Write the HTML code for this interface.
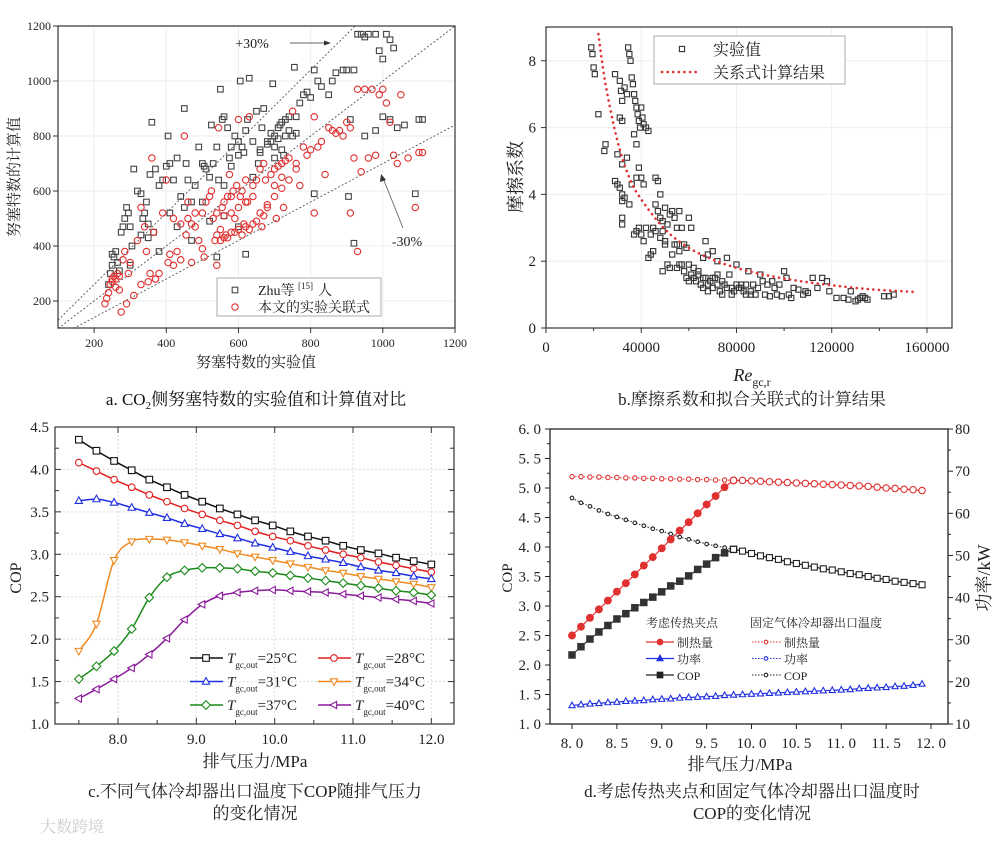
<!DOCTYPE html>
<html><head><meta charset="utf-8"><style>
body{margin:0;background:#fff}
svg{display:block;font-family:"Liberation Serif","Noto Serif CJK SC",serif}
</style></head><body>
<svg id="fig" width="1000" height="845" viewBox="0 0 1000 845" xmlns="http://www.w3.org/2000/svg"></svg>
<script>
// ===== Panel a data =====
const zhuPts=[240,260,245,300,250,330,255,360,260,380,250,370,265,340,270,310,275,450,280,470,285,500,290,540,295,520,300,470,305,400,310,680,320,600,330,590,335,500,340,520,345,560,350,430,355,660,360,850,365,450,370,680,380,620,390,640,400,690,405,800,410,700,420,640,430,720,440,580,450,900,455,700,460,640,470,560,480,620,490,760,500,700,505,690,510,680,520,650,525,840,530,700,540,760,545,640,550,970,555,860,560,870,570,830,575,720,580,760,590,800,600,780,605,1000,610,760,615,740,620,820,625,860,630,1010,640,780,650,890,655,700,660,740,665,830,670,900,680,780,690,810,695,990,700,800,710,830,715,840,720,850,725,730,730,860,740,870,750,800,755,1050,760,870,770,920,780,950,790,960,800,940,810,1040,820,1000,830,980,850,950,860,1000,870,1030,890,1040,900,1040,910,860,920,1040,930,1170,940,1170,950,1160,960,1170,980,1170,990,1110,1000,1080,1010,1170,1020,1150,1030,1120,1000,870,1020,860,1040,830,1060,840,1100,860,1110,860,980,820,950,800,1090,590,905,580,810,590,920,410,620,370,540,360,600,470,470,420,430,470,380,380,300,330,520,490,560,510,640,650,700,720,720,750,760,810,580,690,600,730,660,750,680,770,730,800,740,820,690,780,700,760,710,790,560,620,500,560,450,540,410,520,350,480,330,440];
const oursPts=[230,190,235,210,240,230,245,260,250,280,255,290,260,280,265,300,270,240,275,160,280,350,285,380,290,190,295,300,300,340,310,220,320,420,330,540,340,470,345,380,350,270,355,300,360,720,365,450,370,280,380,300,390,520,400,640,405,340,410,370,420,500,430,380,440,350,450,800,455,440,460,560,470,480,480,470,490,420,500,520,505,360,510,560,520,580,525,600,530,500,535,420,540,520,545,830,550,460,555,540,560,560,565,440,570,580,575,660,580,580,585,600,590,500,595,620,600,860,605,580,610,600,615,480,620,640,625,560,630,870,640,620,650,640,660,680,665,470,670,700,675,640,680,540,690,660,700,680,705,500,710,690,720,700,725,540,730,710,740,720,750,890,760,700,770,620,780,760,790,730,800,750,810,870,820,760,830,780,840,660,850,830,860,820,870,810,880,820,890,800,900,850,910,830,920,720,930,970,940,670,950,970,960,720,970,970,980,730,990,950,1000,970,1010,920,1020,850,1030,730,1040,700,1050,950,1070,720,1090,540,1100,740,1110,740,810,520,910,520,930,380,540,330,500,390,470,340,420,330,370,280,330,260,560,430,580,450,600,460,620,470,640,480,660,520,680,550,700,580,720,610,740,640,760,680,560,510,580,520,600,540,620,560,640,580,700,620,720,650,480,520,460,500,440,480,250,270,260,250,270,290,540,440,550,420,570,430,590,450,610,440,630,460,650,490,670,510];
const aTicks=[200,400,600,800,1000,1200];
const aBands=[1.3,1.0,0.7];
// ===== Panel b data =====
const reK=[19,19.5,20,20.5,22,25,24.5,29,31,31.5,32,33,34,34.5,35,35.5,36,36.5,37,37.5,38,38.5,39,39.5,40,40.5,41,42,43,37,38,31,32,30,32,34,29,30,31,32,33,32,32,32,35,36,38,39,40,41,37,38,39,40,41,42,43,44,45,44,45,46,47,48,46,47,48,49,50,51,52,53,54,55,56,57,50,49,51,52,53,55,56,57,58,59,60,61,59,60,61,62,63,64,65,66,67,67,68,69,70,71,72,73,74,75,76,77,78,79,80,81,82,83,84,85,86,87,88,89,90,91,92,93,94,95,96,97,98,99,100,101,102,103,104,106,108,109,110,112,114,116,118,119,122,125,127,128,130,131,132,133,134,135,142,144,146,66,68,70,72,74,76,78,80,82,84,86,60,62,64,66,68,70,72,58,54,55,56,46,48,49,50];
const fExp=[8.4,8.2,7.8,7.6,6.4,5.5,5.3,7.6,7.4,7.1,6.8,7.2,7.0,8.4,8.2,8.0,7.5,7.3,7.0,6.8,6.6,6.4,6.2,6.0,6.6,6.3,6.1,6.0,5.9,5.8,5.5,6.3,6.2,5.2,4.9,5.1,4.4,4.3,4.2,4.0,3.9,3.8,3.3,3.1,3.7,4.3,4.5,4.8,4.5,4.3,2.8,2.9,3.0,2.8,2.6,3.0,2.1,2.2,2.3,2.8,3.0,4.5,4.4,4.0,3.7,3.5,3.3,3.2,3.6,3.1,3.4,3.5,3.3,3.0,3.5,3.0,2.6,1.7,1.9,1.8,2.2,2.5,2.3,1.9,1.7,2.4,3.3,3.0,1.5,1.4,1.6,1.5,1.4,1.6,1.3,2.1,2.6,1.5,1.3,1.4,1.2,1.5,1.3,1.1,1.4,1.3,2.1,1.6,1.2,1.1,1.9,1.2,1.3,1.1,1.0,1.7,1.1,1.3,1.0,1.2,1.6,1.4,1.0,1.3,0.95,1.4,1.2,1.0,1.3,0.95,1.7,1.5,1.0,0.9,1.2,1.15,1.0,1.1,1.05,1.5,1.2,1.5,1.4,1.1,0.9,0.9,0.85,1.1,0.8,0.85,0.9,0.95,0.9,0.85,0.95,0.95,1.0,1.2,1.1,1.5,1.6,1.0,1.2,1.0,1.3,1.2,1.3,1.0,1.9,1.8,1.7,1.5,2.2,2.3,2.0,2.5,2.5,1.8,1.9,2.9,2.7,2.9,2.5];
const reFit=[22,25,30,35,40,50,60,70,80,90,100,110,120,130,140,155];
const fFit=[8.8,7.3,5.6,4.5,3.85,2.95,2.4,2.05,1.8,1.62,1.48,1.37,1.28,1.2,1.14,1.08];
const bXTicks=[0,40000,80000,120000,160000];
const bYTicks=[0,2,4,6,8];
// ===== Panel c data =====
const pC=[7.5,7.725,7.95,8.175,8.4,8.625,8.85,9.075,9.3,9.525,9.75,9.975,10.2,10.425,10.65,10.875,11.1,11.325,11.55,11.775,12.0];
const cop25=[4.35,4.22,4.10,3.99,3.88,3.79,3.70,3.62,3.54,3.47,3.40,3.34,3.27,3.21,3.16,3.10,3.05,3.01,2.96,2.92,2.88];
const cop28=[4.08,3.98,3.88,3.79,3.70,3.62,3.54,3.47,3.40,3.34,3.27,3.21,3.16,3.10,3.05,3.00,2.96,2.91,2.87,2.83,2.79];
const cop31=[3.63,3.65,3.61,3.55,3.49,3.43,3.36,3.30,3.24,3.19,3.13,3.08,3.03,2.98,2.94,2.90,2.85,2.81,2.78,2.74,2.71];
const cop34=[1.86,2.18,2.93,3.15,3.18,3.17,3.14,3.10,3.06,3.01,2.97,2.93,2.89,2.85,2.81,2.78,2.74,2.71,2.68,2.65,2.61];
const cop37=[1.53,1.68,1.86,2.12,2.49,2.73,2.81,2.84,2.84,2.83,2.80,2.78,2.75,2.72,2.69,2.66,2.63,2.60,2.57,2.55,2.52];
const cop40=[1.30,1.41,1.53,1.66,1.82,2.01,2.23,2.41,2.51,2.55,2.57,2.58,2.57,2.56,2.55,2.53,2.51,2.49,2.47,2.45,2.42];
const cXTicks=[8,9,10,11,12];
const cYTicks=[1.0,1.5,2.0,2.5,3.0,3.5,4.0,4.5];
// ===== Panel d data =====
const pD=[8.0,8.1,8.2,8.3,8.4,8.5,8.6,8.7,8.8,8.9,9.0,9.1,9.2,9.3,9.4,9.5,9.6,9.7,9.8,9.9,10.0,10.1,10.2,10.3,10.4,10.5,10.6,10.7,10.8,10.9,11.0,11.1,11.2,11.3,11.4,11.5,11.6,11.7,11.8,11.9];
const heatPinch=[31.0,33.1,35.2,37.2,39.3,41.4,43.4,45.5,47.6,49.6,51.7,53.8,55.9,57.9,60.0,62.1,64.1,66.2,67.8];
const heatFixed=[68.7,68.7,68.6,68.6,68.5,68.5,68.4,68.4,68.3,68.3,68.2,68.2,68.1,68.1,68.0,68.0,67.9,67.9,67.8,67.8,67.7,67.6,67.5,67.4,67.3,67.2,67.1,67.0,66.9,66.8,66.7,66.6,66.5,66.4,66.2,66.0,65.9,65.7,65.6,65.4];
const copPinch=[2.17,2.31,2.44,2.56,2.67,2.78,2.87,2.97,3.06,3.15,3.24,3.34,3.42,3.51,3.62,3.71,3.82,3.90,3.96];
const copFixed=[4.83,4.75,4.69,4.62,4.56,4.51,4.46,4.41,4.36,4.31,4.27,4.22,4.17,4.13,4.09,4.05,4.02,3.99,3.96,3.93,3.89,3.85,3.82,3.79,3.75,3.72,3.69,3.66,3.63,3.61,3.58,3.55,3.53,3.50,3.47,3.45,3.42,3.40,3.38,3.36];
const powerD=[14.4,14.6,14.8,14.9,15.1,15.2,15.4,15.5,15.6,15.8,15.9,16.0,16.2,16.3,16.4,16.5,16.6,16.8,16.9,17.0,17.1,17.2,17.3,17.4,17.5,17.6,17.7,17.8,17.9,18.0,18.1,18.2,18.4,18.5,18.6,18.7,18.9,19.0,19.2,19.5];
const dXTicks=[8.0,8.5,9.0,9.5,10.0,10.5,11.0,11.5,12.0];
const dYTicks=[1.0,1.5,2.0,2.5,3.0,3.5,4.0,4.5,5.0,5.5,6.0];
const dRTicks=[10,20,30,40,50,60,70,80];

const NS='http://www.w3.org/2000/svg';
const svg=document.getElementById('fig');
function mk(tag,attrs,parent){const e=document.createElementNS(NS,tag);for(const k in attrs)e.setAttribute(k,attrs[k]);(parent||svg).appendChild(e);return e;}
function txt(s,x,y,size,anchor,parent,extra){const e=mk('text',Object.assign({x:x,y:y,'font-size':size,'text-anchor':anchor||'middle',fill:'#222'},extra||{}),parent);e.textContent=s;return e;}
function marker(shape,x,y,col,fill,g,s){s=s||3.2;let e;
 if(shape==='sq')e=mk('rect',{x:x-s,y:y-s,width:2*s,height:2*s},g);
 else if(shape==='ci')e=mk('circle',{cx:x,cy:y,r:s},g);
 else{let p;
  if(shape==='tu')p=[[x,y-s*1.2],[x+s*1.1,y+s*0.8],[x-s*1.1,y+s*0.8]];
  else if(shape==='td')p=[[x,y+s*1.2],[x+s*1.1,y-s*0.8],[x-s*1.1,y-s*0.8]];
  else if(shape==='tl')p=[[x-s*1.2,y],[x+s*0.8,y-s*1.1],[x+s*0.8,y+s*1.1]];
  else p=[[x,y-s*1.3],[x+s*1.3,y],[x,y+s*1.3],[x-s*1.3,y]];
  e=mk('polygon',{points:p.map(q=>q.join(',')).join(' ')},g);}
 e.setAttribute('fill',fill);e.setAttribute('stroke',col);e.setAttribute('stroke-width',1.1);return e;}
function smooth(pts){let d='M'+pts[0][0]+','+pts[0][1];for(let i=0;i<pts.length-1;i++){const p0=pts[i-1]||pts[i],p1=pts[i],p2=pts[i+1],p3=pts[i+2]||p2;
 d+=' C'+(p1[0]+(p2[0]-p0[0])/6)+','+(p1[1]+(p2[1]-p0[1])/6)+' '+(p2[0]-(p3[0]-p1[0])/6)+','+(p2[1]-(p3[1]-p1[1])/6)+' '+p2[0]+','+p2[1];}return d;}

// ================= Panel A =================
const gA=mk('g',{});


const xA=v=>58+(v-100)*0.3609, yA=v=>328.5-(v-100)*0.275;
aTicks.forEach(t=>{
 const gl=mk('line',{x1:xA(t),x2:xA(t),y1:26,y2:328,stroke:'#eee','stroke-width':1},gA);
 
 
 const gl2=mk('line',{x1:58,x2:455,y1:yA(t),y2:yA(t),stroke:'#eee','stroke-width':1},gA);
 
 
});
aBands.forEach(k=>{
 const x0=Math.max(100,100/k), x1=Math.min(1200,1200/k);
 const l=mk('line',{x1:xA(x0),y1:yA(k*x0),x2:xA(x1),y2:yA(k*x1),stroke:'#555','stroke-width':0.9,'stroke-dasharray':'2,2'},gA);
 
 
});
for(let i=0;i<zhuPts.length;i+=2){const m=marker('sq',xA(zhuPts[i]),yA(zhuPts[i+1]),'#444','none',gA,2.8);
 
 }
for(let i=0;i<oursPts.length;i+=2){const m=marker('ci',xA(oursPts[i]),yA(oursPts[i+1]),'#e03030','none',gA,3.2);
 
 }
const frA=mk('rect',{x:58,y:26,width:397,height:302,fill:'none',stroke:'#333','stroke-width':1.2},gA);


aTicks.forEach(t=>{
 mk('line',{x1:xA(t),x2:xA(t),y1:328,y2:333,stroke:'#333'},gA);
 const tl=txt(String(t),xA(t),347,12,'middle',gA);
 
 
 mk('line',{x1:53,x2:58,y1:yA(t),y2:yA(t),stroke:'#333'},gA);
 const yl=txt(String(t),51,yA(t)+4,12,'end',gA);
 
 
});
const aP=txt('+30%',252,48,14,'middle',gA);


mk('line',{x1:290,y1:43,x2:328,y2:43,stroke:'#333','stroke-width':0.8},gA);
mk('polygon',{points:'331,43 324,40.5 324,45.5',fill:'#333'},gA);
const aM=txt('-30%',407,246,14,'middle',gA);


mk('line',{x1:403,y1:228,x2:383,y2:178,stroke:'#555','stroke-width':0.8},gA);
mk('polygon',{points:'381,174 380,182 386,180',fill:'#333'},gA);
const lgA=mk('g',{},gA);


mk('rect',{x:217,y:278,width:164,height:38,fill:'#fff',stroke:'#999','stroke-width':0.8},lgA);
marker('sq',235,290,'#444','none',lgA,2.8);
marker('ci',235,307,'#e03030','none',lgA,3.2);
const la1=txt('Zhu等',258,295,14,'start',lgA);


txt('[15]',298,289,9,'start',lgA);
txt('人',318,295,14,'start',lgA);
const la2=txt('本文的实验关联式',258,312,14,'start',lgA);


const aYT=txt('努塞特数的计算值',0,0,15,'middle',gA,{transform:'translate(19,177) rotate(-90)'});


const aXT=txt('努塞特数的实验值',256,367,15,'middle',gA);


const aCap=mk('text',{x:256,y:405,'font-size':17,'text-anchor':'middle',fill:'#111'},gA);
aCap.innerHTML='a. CO<tspan font-size="11" dy="4">2</tspan><tspan dy="-4">侧努塞特数的实验值和计算值对比</tspan>';



// ================= Panel B =================
const gB=mk('g',{});


const xB=v=>546+v*0.002381, yB=v=>328-v*33.4;
bXTicks.forEach(t=>{const g=mk('line',{x1:xB(t),x2:xB(t),y1:27,y2:328,stroke:'#eee'},gB);
 
 });
bYTicks.forEach(t=>{const g=mk('line',{x1:546,x2:952,y1:yB(t),y2:yB(t),stroke:'#eee'},gB);
 
 });
for(let i=0;i<reK.length;i++){const m=marker('sq',xB(reK[i]*1000),yB(fExp[i]),'#333','none',gB,2.6);
 
 }
const fitPts=reFit.map((r,i)=>[xB(r*1000),yB(fFit[i])]);
const fitLine=mk('path',{d:smooth(fitPts),fill:'none',stroke:'#e03030','stroke-width':2.6,'stroke-dasharray':'0.1,5.5','stroke-linecap':'round'},gB);


const frB=mk('rect',{x:546,y:27,width:406,height:301,fill:'none',stroke:'#333','stroke-width':1.2},gB);


bXTicks.forEach(t=>{mk('line',{x1:xB(t),x2:xB(t),y1:328,y2:333,stroke:'#333'},gB);
 const l=txt(String(t),xB(t),352,15,'middle',gB);
 
 });
[20000,60000,100000,140000].forEach(t=>mk('line',{x1:xB(t),x2:xB(t),y1:328,y2:331,stroke:'#333'},gB));
bYTicks.forEach(t=>{mk('line',{x1:541,x2:546,y1:yB(t),y2:yB(t),stroke:'#333'},gB);
 const l=txt(String(t),536,yB(t)+5,15,'end',gB);
 
 });
const lgB=mk('g',{},gB);


mk('rect',{x:654,y:36,width:191,height:48,fill:'#fff',stroke:'#999','stroke-width':0.8},lgB);
marker('sq',682,49,'#333','none',lgB,2.6);
mk('line',{x1:662,x2:700,y1:72,y2:72,stroke:'#e03030','stroke-width':2.6,'stroke-dasharray':'0.1,5.5','stroke-linecap':'round'},lgB);
const lb1=txt('实验值',713,55,16,'start',lgB);


const lb2=txt('关系式计算结果',713,78,16,'start',lgB);


const bYT=txt('摩擦系数',0,0,18,'middle',gB,{transform:'translate(522,177) rotate(-90)'});


const bXT=mk('text',{x:752,y:381,'font-size':18,'text-anchor':'middle',fill:'#222'},gB);
bXT.innerHTML='<tspan font-style="italic">Re</tspan><tspan font-size="12" dy="5">gc,r</tspan>';


const bCap=txt('b.摩擦系数和拟合关联式的计算结果',752,405,17,'middle',gB);



// ================= Panel C =================
const gC=mk('g',{});


const xC=v=>118+(v-8)*78.33, yC=v=>724-(v-1)*84.86;
cXTicks.forEach(t=>{const g=mk('line',{x1:xC(t),x2:xC(t),y1:427,y2:724,stroke:'#ddd','stroke-dasharray':'2,2'},gC);
 
 });
cYTicks.forEach(t=>{const g=mk('line',{x1:55,x2:454,y1:yC(t),y2:yC(t),stroke:'#ddd','stroke-dasharray':'2,2'},gC);
 
 });
const cSeries=[[cop25,'#111','sq','25'],[cop28,'#e02020','ci','28'],[cop31,'#2030e0','tu','31'],[cop34,'#f08a20','td','34'],[cop37,'#1a8a1a','di','37'],[cop40,'#8a1a9a','tl','40']];
cSeries.forEach(s=>{
 const g=mk('g',{},gC);
 
 
 const pts=pC.map((p,i)=>[xC(p),yC(s[0][i])]);
 mk('path',{d:smooth(pts),fill:'none',stroke:s[1],'stroke-width':1.5},g);
 pts.forEach(q=>{const m=marker(s[2],q[0],q[1],s[1],'#fff',g,3.3);
  
  });
});
const frC=mk('rect',{x:55,y:427,width:399,height:297,fill:'none',stroke:'#333','stroke-width':1.2},gC);


mk('line',{x1:xC(7.5),x2:xC(7.5),y1:724,y2:720,stroke:'#333'},gC);
cXTicks.forEach(t=>{mk('line',{x1:xC(t),x2:xC(t),y1:724,y2:718,stroke:'#333'},gC);mk('line',{x1:xC(t),x2:xC(t),y1:427,y2:433,stroke:'#333'},gC);
 if(t<12)mk('line',{x1:xC(t+0.5),x2:xC(t+0.5),y1:724,y2:720,stroke:'#333'},gC);
 const l=txt(t.toFixed(1),xC(t),744,15,'middle',gC);
 
 });
cYTicks.forEach(t=>{mk('line',{x1:55,x2:61,y1:yC(t),y2:yC(t),stroke:'#333'},gC);mk('line',{x1:448,x2:454,y1:yC(t),y2:yC(t),stroke:'#333'},gC);
 if(t<4.5){mk('line',{x1:55,x2:59,y1:yC(t+0.25),y2:yC(t+0.25),stroke:'#333'},gC);mk('line',{x1:450,x2:454,y1:yC(t+0.25),y2:yC(t+0.25),stroke:'#333'},gC);}
 const l=txt(t.toFixed(1),49,yC(t)+5,15,'end',gC);
 
 });
const lgC=mk('g',{},gC);


cSeries.forEach((s,i)=>{const cx=i%2?318:190, cy=658+Math.floor(i/2)*23.5;
 mk('line',{x1:cx,x2:cx+33,y1:cy,y2:cy,stroke:s[1],'stroke-width':1.5},lgC);
 marker(s[2],cx+16,cy,s[1],'#fff',lgC,3.3);
 const t=mk('text',{x:cx+37,y:cy+5,'font-size':15,fill:'#222'},lgC);
 t.innerHTML='<tspan font-style="italic">T</tspan><tspan font-size="9" dy="5">gc,out</tspan><tspan dy="-5">='+s[3]+'°C</tspan>';
 
 });
const cYT=txt('COP',0,0,16,'middle',gC,{transform:'translate(21,578) rotate(-90)'});


const cXT=txt('排气压力/MPa',255,767,17,'middle',gC);


const cC1=txt('c.不同气体冷却器出口温度下COP随排气压力',255,797,17,'middle',gC);


txt('的变化情况',255,819,17,'middle',gC);

// ================= Panel D =================
const gD=mk('g',{});


const xD=v=>572+(v-8)*89.75, yL=v=>724-(v-1)*59, yR=v=>724-(v-10)*4.214;
function series(vals,xs,yf,col,shape,fill,dash,name,s){
 const g=mk('g',{},gD);
 
 
 const pts=vals.map((v,i)=>[xD(xs[i]),yf(v)]);
 mk('polyline',{points:pts.map(q=>q.join(',')).join(' '),fill:'none',stroke:col,'stroke-width':dash?1:1.2,'stroke-dasharray':dash?'1.5,1.5':'none'},g);
 pts.forEach(q=>{const m=marker(shape,q[0],q[1],col,fill,g,s);
  
  });
}
series(heatFixed,pD,yR,'#e03030','ci','#fff',true,'d-heating-fixed',2.2);
series(copFixed,pD,yL,'#222','ci','#fff',true,'d-cop-fixed',1.8);
series(heatPinch,pD,yR,'#e03030','ci','#e03030',false,'d-heating-pinch',3.4);
series(copPinch,pD,yL,'#333','sq','#333',false,'d-cop-pinch',3.2);
series(heatFixed.slice(18),pD.slice(18),yR,'#e03030','ci','#fff',false,'d-heating-common',3.2);
series(copFixed.slice(18),pD.slice(18),yL,'#222','sq','#fff',false,'d-cop-common',3.0);
series(powerD,pD,yR,'#2030e0','tu','#fff',false,'d-power',2.8);
const frD=mk('rect',{x:550,y:429,width:398,height:295,fill:'none',stroke:'#222','stroke-width':1.3},gD);


dXTicks.forEach(t=>{mk('line',{x1:xD(t),x2:xD(t),y1:724,y2:729,stroke:'#222'},gD);
 const l=txt(t.toFixed(1).replace('.','. '),xD(t),748,15,'middle',gD);
 
 });
dYTicks.forEach(t=>{mk('line',{x1:545,x2:550,y1:yL(t),y2:yL(t),stroke:'#222'},gD);
 if(t<6)mk('line',{x1:547,x2:550,y1:yL(t+0.25),y2:yL(t+0.25),stroke:'#222'},gD);
 const l=txt(t.toFixed(1).replace('.','. '),541,yL(t)+5,15,'end',gD);
 
 });
dRTicks.forEach(t=>{mk('line',{x1:948,x2:953,y1:yR(t),y2:yR(t),stroke:'#222'},gD);
 if(t<80)mk('line',{x1:948,x2:951,y1:yR(t+5),y2:yR(t+5),stroke:'#222'},gD);
 const l=txt(String(t),955,yR(t)+5,15,'start',gD);
 
 });
const lgD=mk('g',{},gD);


txt('考虑传热夹点',646,627,12,'start',lgD);
txt('固定气体冷却器出口温度',750,627,12,'start',lgD);
const ldRows=[['制热量','#e03030','ci','#e03030','#fff'],['功率','#2030e0','tu','#2030e0','#fff'],['COP','#222','sq','#222','#fff']];
ldRows.forEach((r,i)=>{const y=642+i*16.5;
 mk('line',{x1:646,x2:674,y1:y,y2:y,stroke:r[1],'stroke-width':1.2},lgD);
 marker(r[2],660,y,r[1],r[3],lgD,2.8);
 const a=txt(r[0],677,y+5,12,'start',lgD);
 
 
 mk('line',{x1:752,x2:781,y1:y,y2:y,stroke:r[1],'stroke-width':1,'stroke-dasharray':'1.5,1.5'},lgD);
 marker('ci',766,y,r[1],r[4],lgD,1.8);
 const b=txt(r[0],784,y+5,12,'start',lgD);
 
 });
const dYT=txt('COP',0,0,15,'middle',gD,{transform:'translate(512,578) rotate(-90)'});


const dRT=txt('功率/kW',0,0,18,'middle',gD,{transform:'translate(990,578) rotate(-90)'});


const dXT=txt('排气压力/MPa',740,770,17,'middle',gD);


const dC1=txt('d.考虑传热夹点和固定气体冷却器出口温度时',752,797,17,'middle',gD);


txt('COP的变化情况',752,819,17,'middle',gD);

const wm=txt('大数跨境',40,832,16,'start',svg,{fill:'#ccc'});


</script>
</body></html>
